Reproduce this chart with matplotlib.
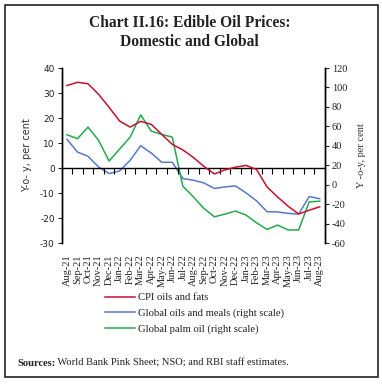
import numpy as np
import matplotlib
matplotlib.use("Agg")
import matplotlib.pyplot as plt
from matplotlib.patches import Rectangle

plt.rcParams.update({"font.family": "Liberation Serif", "axes.unicode_minus": False})

months = ["Aug-21", "Sep-21", "Oct-21", "Nov-21", "Dec-21", "Jan-22", "Feb-22", "Mar-22",
          "Apr-22", "May-22", "Jun-22", "Jul-22", "Aug-22", "Sep-22", "Oct-22", "Nov-22",
          "Dec-22", "Jan-23", "Feb-23", "Mar-23", "Apr-23", "May-23", "Jun-23", "Jul-23",
          "Aug-23"]
cpi_oils = [33.0, 34.3, 33.7, 29.5, 24.3, 18.8, 16.4, 18.7, 17.5, 13.5, 9.5, 7.3, 4.3,
            0.7, -2.3, -0.7, 0.4, 1.1, -0.5, -7.5, -11.5, -15.2, -18.3, -16.8, -15.4]
global_oils_meals = [46.7, 33.7, 29.3, 18.4, 11.6, 14.3, 25.2, 40.2, 32.7, 23.2, 23.2, 6.5,
                     4.8, 2.0, -3.7, -2.1, -1.1, -8.2, -16.4, -27.6, -27.8, -29.3, -30.0,
                     -12.0, -14.2]
global_palm = [51.5, 47.4, 59.3, 45.7, 24.5, 36.8, 49.0, 71.9, 55.2, 51.8, 49.0, -1.4,
               -12.3, -24.2, -32.8, -30.0, -26.9, -31.0, -38.9, -45.8, -41.3, -46.3, -46.3,
               -17.4, -16.8]
left_ticks = [40, 30, 20, 10, 0, -10, -20, -30]
right_ticks = [120, 100, 80, 60, 40, 20, 0, -20, -40, -60]

RED, BLUE, GREEN = "#C8102E", "#5579CC", "#22AA4C"

W, H = 382, 384
fig = plt.figure(figsize=(W / 100, H / 100), dpi=100)
ax = fig.add_axes([61.7 / W, 1 - 243.3 / H, (325 - 61.7) / W, (243.3 - 68) / H])
ax2 = ax.twinx()

x = np.arange(len(months))
l1, = ax.plot(x, cpi_oils, color=RED, lw=1.1, label="CPI oils and fats", zorder=3)
l2, = ax2.plot(x, global_oils_meals, color=BLUE, lw=1.1, label="Global oils and meals (right scale)")
l3, = ax2.plot(x, global_palm, color=GREEN, lw=1.1, label="Global palm oil (right scale)")
ax.set_zorder(ax2.get_zorder() + 1)
ax.patch.set_visible(False)

ax.set_xlim(-0.5, len(months) - 0.5)
ax.set_ylim(-30, 40)
ax2.set_ylim(-60, 120)
ax.set_yticks(left_ticks)
ax2.set_yticks(right_ticks)
ax.tick_params(axis="y", direction="out", length=3, width=0.8, pad=2, labelsize=6.5,
               labelfontfamily="DejaVu Sans", colors="#222")
ax2.tick_params(axis="y", direction="out", length=3, width=0.8, pad=2, labelsize=7.5,
                colors="#222")
ax.set_xticks(x)
ax.set_xticklabels(months, rotation=90, fontsize=7.5, color="#222")
ax.tick_params(axis="x", length=0, pad=8)

for a in (ax, ax2):
    a.spines["top"].set_visible(False)
    a.spines["bottom"].set_visible(False)
    a.spines["left"].set_linewidth(1.0)
    a.spines["right"].set_linewidth(1.0)

# zero line with category boundary ticks
sec = ax.secondary_xaxis(30 / 70)
sec.set_xticks(np.arange(-0.5, len(months), 1.0))
sec.tick_params(direction="out", length=4, width=0.8, labelbottom=False, labeltop=False)
sec.spines["bottom"].set_linewidth(1.0)
sec.spines["top"].set_linewidth(1.0)

fig.text(27 / W, 1 - 155 / H, "Y-o- y, per cent", rotation=90, ha="center", va="center",
         fontsize=7, family="DejaVu Sans", color="#333")
fig.text(362 / W, 1 - 156 / H, "Y -o-y, per cent", rotation=90, ha="center", va="center",
         fontsize=7.5, color="#333")

fig.text(0.497, 1 - 23 / H, "Chart II.16: Edible Oil Prices:", ha="center", va="center",
         fontsize=11.2, fontweight="bold", color="#222")
fig.text(0.497, 1 - 42 / H, "Domestic and Global", ha="center", va="center",
         fontsize=11.2, fontweight="bold", color="#222")

fig.legend(handles=[l1, l2, l3], loc="upper left", bbox_to_anchor=(105 / W, 1 - 293 / H),
           frameon=False, borderpad=0, borderaxespad=0, fontsize=7.7, handlelength=2.8,
           handletextpad=0.3, labelspacing=0.55, labelcolor="#222")

t1 = fig.text(17 / W, 1 - 363 / H, "Sources:", ha="left", va="center", fontsize=7.6,
              fontweight="bold", color="#222")
ax.annotate(" World Bank Pink Sheet; NSO; and RBI staff estimates.", xy=(1, 0.5),
            xycoords=t1, ha="left", va="center", fontsize=7.6, color="#222",
            annotation_clip=False)

fig.patches.append(Rectangle((4.7 / W, 1 - 377 / H), (378 - 4.7) / W, (377 - 4.7) / H,
                             transform=fig.transFigure, fill=False, lw=1.2, ec="#222"))

fig.savefig("out.png", dpi=100)
